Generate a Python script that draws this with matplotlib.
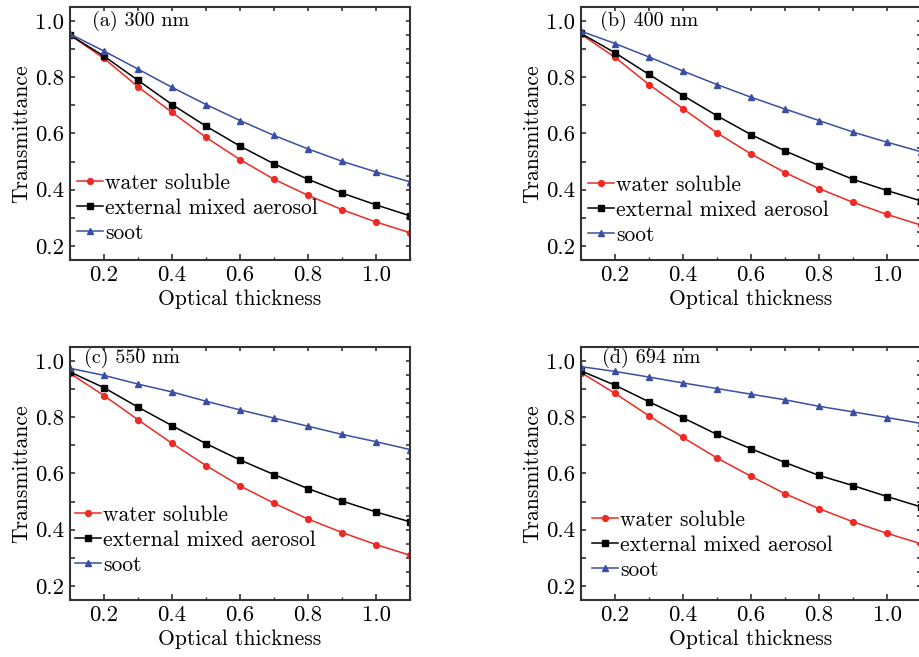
import matplotlib
matplotlib.use('Agg')
import matplotlib.pyplot as plt
from matplotlib.ticker import MultipleLocator, NullFormatter

plt.rcParams['font.family'] = ['cmr10', 'DejaVu Serif']
plt.rcParams['axes.formatter.use_mathtext'] = True
plt.rcParams['mathtext.fontset'] = 'cm'

thickness = [0.1, 0.2, 0.3, 0.4, 0.5, 0.6, 0.7, 0.8, 0.9, 1.0, 1.1]
labels = ['water soluble', 'external mixed aerosol', 'soot']
titles = ['(a) 300 nm', '(b) 400 nm', '(c) 550 nm', '(d) 694 nm']

# 300 nm
water_300 = [0.950, 0.867, 0.766, 0.675, 0.586, 0.507, 0.437, 0.380, 0.329, 0.285, 0.247]
mixed_300 = [0.950, 0.875, 0.789, 0.703, 0.626, 0.555, 0.492, 0.437, 0.388, 0.346, 0.307]
soot_300 = [0.954, 0.893, 0.829, 0.764, 0.703, 0.646, 0.593, 0.545, 0.501, 0.463, 0.428]
# 400 nm
water_400 = [0.953, 0.871, 0.774, 0.688, 0.602, 0.527, 0.461, 0.404, 0.355, 0.312, 0.274]
mixed_400 = [0.956, 0.887, 0.810, 0.735, 0.663, 0.596, 0.538, 0.486, 0.437, 0.397, 0.360]
soot_400 = [0.964, 0.920, 0.872, 0.822, 0.774, 0.729, 0.687, 0.646, 0.605, 0.569, 0.535]
# 550 nm
water_550 = [0.956, 0.877, 0.791, 0.707, 0.628, 0.556, 0.494, 0.438, 0.390, 0.347, 0.309]
mixed_550 = [0.961, 0.905, 0.836, 0.770, 0.706, 0.648, 0.596, 0.546, 0.502, 0.463, 0.428]
soot_550 = [0.974, 0.949, 0.918, 0.890, 0.857, 0.826, 0.797, 0.768, 0.739, 0.713, 0.685]
# 694 nm
water_694 = [0.959, 0.885, 0.805, 0.728, 0.655, 0.590, 0.528, 0.475, 0.428, 0.387, 0.350]
mixed_694 = [0.965, 0.914, 0.855, 0.798, 0.739, 0.688, 0.639, 0.593, 0.557, 0.518, 0.481]
soot_694 = [0.980, 0.963, 0.943, 0.922, 0.902, 0.882, 0.862, 0.839, 0.819, 0.799, 0.778]

panels = [(water_300, mixed_300, soot_300),
          (water_400, mixed_400, soot_400),
          (water_550, mixed_550, soot_550),
          (water_694, mixed_694, soot_694)]

colors = ['#ee2a24', 'black', '#3a4ea2']
markers = ['o', 's', '^']

# axes rectangles in figure fraction (right column runs off the page edge)
rects = [[0.0761, 0.6043, 0.3696, 0.3851],
         [0.6315, 0.6043, 0.3696, 0.3851],
         [0.0761, 0.0868, 0.3696, 0.3851],
         [0.6315, 0.0868, 0.3696, 0.3851]]
title_pos = [(0.065, 0.945), (0.056, 0.945), (0.040, 0.957), (0.062, 0.957)]
leg_pos = [(0.02, 0.206), (0.02, 0.198), (0.015, 0.237), (0.032, 0.217)]

fig = plt.figure(figsize=(9.2, 6.57), dpi=100)
spine_col = '#333333'
fs_tick = 16.5
fs_lab = 15.5
fs_title = 14.5

for k in range(4):
    ax = fig.add_axes(rects[k])
    for s, c, m, lab in zip(panels[k], colors, markers, labels):
        ax.plot(thickness, s, color=c, marker=m, markersize=4.2, lw=1.1, label=lab)
    ax.set_xlim(0.1, 1.1)
    ax.set_ylim(0.15, 1.05)
    ax.xaxis.set_minor_locator(MultipleLocator(0.1))
    ax.yaxis.set_minor_locator(MultipleLocator(0.1))
    ax.set_xticks([0.2, 0.4, 0.6, 0.8, 1.0])
    ax.set_xticklabels(['0.2', '0.4', '0.6', '0.8', '1.0'])
    ax.set_yticks([0.2, 0.4, 0.6, 0.8, 1.0])
    ax.set_yticklabels(['0.2', '0.4', '0.6', '0.8', '1.0'])
    ax.tick_params(axis='x', which='major', direction='in', length=4, width=1.2,
                   color=spine_col, labelsize=fs_tick, pad=4)
    ax.tick_params(axis='x', which='minor', direction='in', length=2, width=1,
                   color=spine_col)
    ax.tick_params(axis='y', which='both', direction='in', length=3.5, width=1.2,
                   color=spine_col, labelsize=fs_tick, pad=4)
    for sp in ax.spines.values():
        sp.set_color(spine_col)
        sp.set_linewidth(1.5)

    top = ax.secondary_xaxis('top')
    top.xaxis.set_major_locator(MultipleLocator(0.1))
    top.xaxis.set_major_formatter(NullFormatter())
    top.tick_params(direction='in', length=3, width=1.2, color=spine_col)
    top.spines['top'].set_visible(False)
    right = ax.secondary_yaxis('right')
    right.yaxis.set_major_locator(MultipleLocator(0.1))
    right.yaxis.set_minor_locator(MultipleLocator(0.05))
    right.yaxis.set_major_formatter(NullFormatter())
    right.tick_params(which='both', direction='in', length=3, width=1.2, color=spine_col)
    right.spines['right'].set_visible(False)

    ax.set_xlabel('Optical thickness', fontsize=fs_lab, labelpad=3)
    ax.set_ylabel('Transmittance', fontsize=fs_lab, labelpad=3)
    ax.text(title_pos[k][0], title_pos[k][1], titles[k], transform=ax.transAxes,
            fontsize=fs_title, va='center', ha='left')
    ax.legend(loc='center left', bbox_to_anchor=leg_pos[k], frameon=False,
              fontsize=fs_lab, borderpad=0, borderaxespad=0, handlelength=1.2,
              handletextpad=0.1, labelspacing=0.25)

fig.savefig('out.png', dpi=100)
